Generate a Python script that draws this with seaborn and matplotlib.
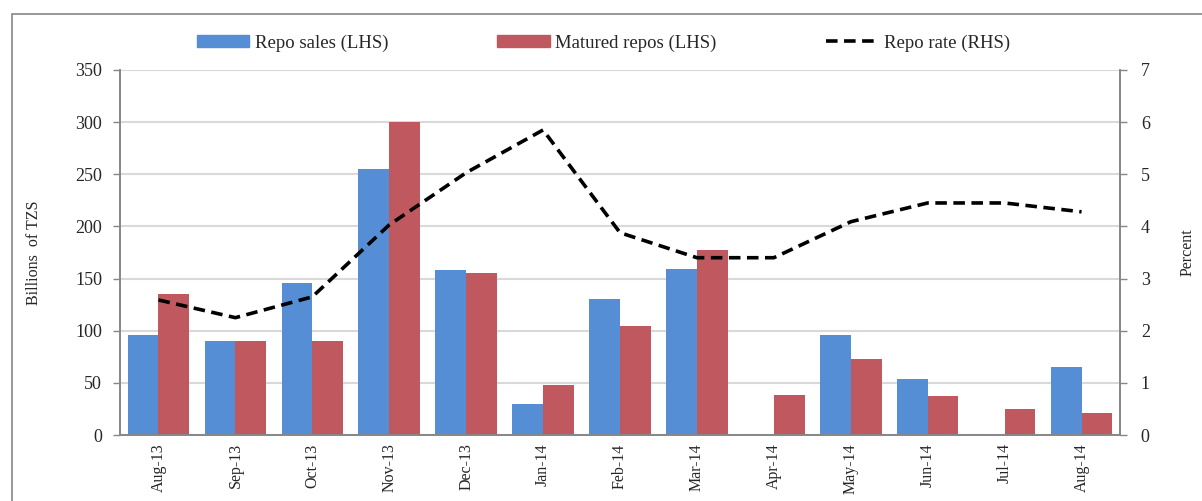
import matplotlib
matplotlib.use("Agg")
import matplotlib.pyplot as plt
from matplotlib.patches import Rectangle, Patch
from matplotlib.lines import Line2D
import numpy as np
import pandas as pd
import seaborn as sns

months = ["Aug-13", "Sep-13", "Oct-13", "Nov-13", "Dec-13", "Jan-14", "Feb-14",
          "Mar-14", "Apr-14", "May-14", "Jun-14", "Jul-14", "Aug-14"]
repo_sales = [96, 90, 146, 255, 158, 30, 130, 159, 0, 96, 54, 0, 65]
matured_repos = [135, 90, 90, 300, 155, 48, 105, 177, 38, 73, 37, 25, 21]
repo_rate = [2.59, 2.25, 2.65, 4.03, 5.03, 5.85, 3.88, 3.40, 3.40, 4.09, 4.45, 4.45, 4.28]

series_names = ["Repo sales (LHS)", "Matured repos (LHS)"]
bar_colors = ["#558ed5", "#c0595f"]

bars_df = pd.DataFrame({
    "Month": months * 2,
    "Value": repo_sales + matured_repos,
    "Series": [series_names[0]] * len(months) + [series_names[1]] * len(months),
})
rate_df = pd.DataFrame({"pos": np.arange(len(months)), "Rate": repo_rate})

sns.set_theme(style="white")
plt.rcParams["font.family"] = ["Liberation Serif", "DejaVu Serif"]

fig = plt.figure(figsize=(12.02, 5.01), dpi=100)
ax = fig.add_axes([120 / 1202, 1 - 435 / 501, 1000 / 1202, 365 / 501])

sns.barplot(data=bars_df, x="Month", y="Value", hue="Series", order=months,
            hue_order=series_names, palette=bar_colors, width=0.8,
            saturation=1, legend=False, ax=ax, linewidth=0)

ax2 = ax.twinx()
dash = (0, (3.2, 1.8))
sns.lineplot(data=rate_df, x="pos", y="Rate", ax=ax2, color="black",
             linewidth=2.6, legend=False)
ax2.lines[0].set_linestyle(dash)

grey = "#868686"
ax.set_xlim(-0.5, len(months) - 0.5)
ax.set_ylim(0, 350)
ax.set_yticks(range(0, 351, 50))
ax2.set_ylim(0, 7)
ax2.set_yticks(range(0, 8))

ax.yaxis.grid(True, color="#d9d9d9", linewidth=1.5)
ax.set_axisbelow(True)

ax.set_xticks(range(len(months)))
ax.set_xticklabels(months, rotation=90, fontsize=11.5)
ax.set_xticks(np.arange(-0.5, len(months), 1), minor=True)
ax.tick_params(axis="x", which="major", length=0, pad=6)
ax.tick_params(axis="x", which="minor", length=5, width=1, color=grey, direction="out")
ax.tick_params(axis="y", length=5, width=1, color=grey, direction="out",
               labelsize=13, left=True, pad=8)
ax2.tick_params(axis="y", length=5, width=1, color=grey, direction="out",
                labelsize=13, right=True, pad=10)

ax.set_xlabel("")
ax.set_ylabel("Billions  of TZS", fontsize=11.5, labelpad=24)
ax2.set_xlabel("")
ax2.set_ylabel("Percent", fontsize=11.5, labelpad=21)

for a in (ax, ax2):
    a.spines["top"].set_visible(False)
    for side in ("left", "right", "bottom"):
        a.spines[side].set_color(grey)
        a.spines[side].set_linewidth(1.2)

handles = [Patch(color=bar_colors[0]), Patch(color=bar_colors[1]),
           Line2D([0], [0], color="black", linewidth=2.6, linestyle=dash)]
labels = series_names + ["Repo rate (RHS)"]
fig.legend(handles, labels, loc="center", bbox_to_anchor=(0.502, 1 - 43 / 501),
           ncol=3, frameon=False, fontsize=13.5, columnspacing=5.8,
           handlelength=2.8, handleheight=0.55, handletextpad=0.3)

fig.add_artist(Rectangle((12 / 1202, -0.1), 1.2, 1.1 - 14 / 501,
                         transform=fig.transFigure, fill=False,
                         edgecolor=grey, linewidth=1.2))

fig.savefig("out.png", dpi=100)
